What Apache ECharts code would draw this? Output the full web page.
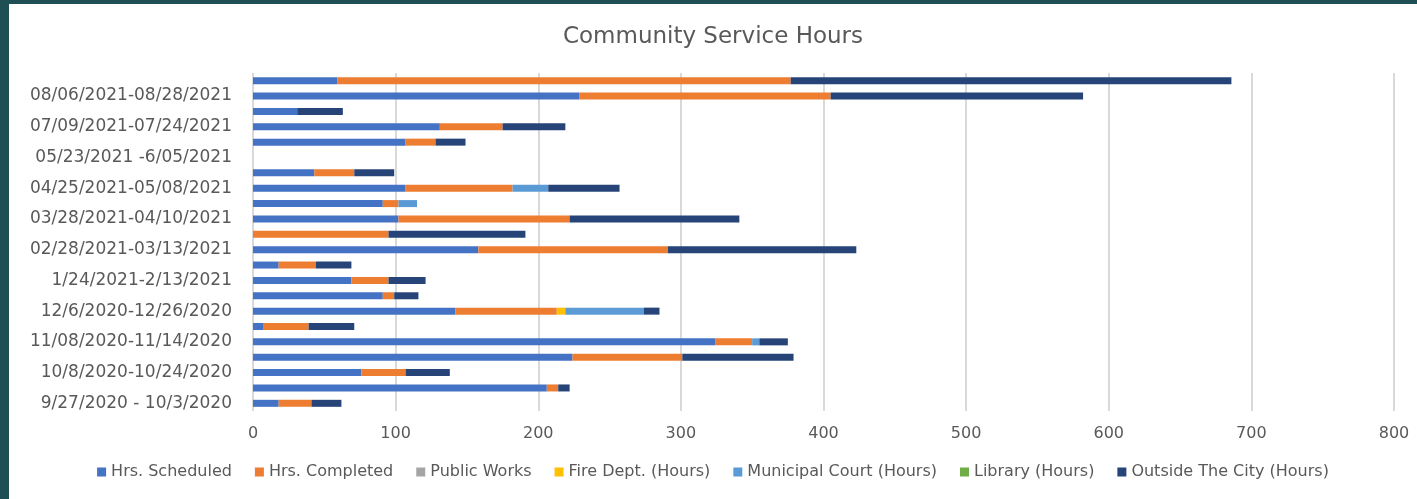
<!DOCTYPE html>
<html>
<head>
<meta charset="utf-8">
<script src="https://cdn.jsdelivr.net/npm/echarts@6/dist/echarts.min.js"></script>
<style>
  html, body { margin: 0; padding: 0; background: #1e4f54; width: 1417px; height: 499px; overflow: hidden; }
  #c { position: absolute; left: 9px; top: 4px; width: 1408px; height: 495px; background: #ffffff; }
</style>
</head>
<body>
<div id="c"></div>
<script>
const categories = [
  "9/27/2020 - 10/3/2020",
  "10/4/2020-10/7/2020",
  "10/8/2020-10/24/2020",
  "10/25/2020-11/07/2020",
  "11/08/2020-11/14/2020",
  "11/15/2020-12/5/2020",
  "12/6/2020-12/26/2020",
  "12/27/2020-1/23/2021",
  "1/24/2021-2/13/2021",
  "2/14/2021-2/27/2021",
  "02/28/2021-03/13/2021",
  "03/14/2021-03/27/2021",
  "03/28/2021-04/10/2021",
  "04/11/2021-04/24/2021",
  "04/25/2021-05/08/2021",
  "05/09/2021-05/22/2021",
  "05/23/2021 -6/05/2021",
  "06/06/2021-07/08/2021",
  "07/09/2021-07/24/2021",
  "07/25/2021-08/05/2021",
  "08/06/2021-08/28/2021",
  "08/29/2021-09/11/2021"
];
const hrsScheduled   = [18, 206, 76, 224, 324, 7, 142, 91, 69, 18, 158, 0, 102, 91, 107, 43, 0, 107, 131, 31, 229, 59];
const hrsCompleted   = [23, 8, 31, 77, 26, 32, 71, 8, 26, 26, 133, 95, 120, 11, 75, 28, 0, 21, 44, 0, 176, 318];
const publicWorks    = [0, 0, 0, 0, 0, 0, 0, 0, 0, 0, 0, 0, 0, 0, 0, 0, 0, 0, 0, 0, 0, 0];
const fireDept       = [0, 0, 0, 0, 0, 0, 6, 0, 0, 0, 0, 0, 0, 0, 0, 0, 0, 0, 0, 0, 0, 0];
const municipalCourt = [0, 0, 0, 0, 5, 0, 55, 0, 0, 0, 0, 0, 0, 13, 25, 0, 0, 0, 0, 0, 0, 0];
const library        = [0, 0, 0, 0, 0, 0, 0, 0, 0, 0, 0, 0, 0, 0, 0, 0, 0, 0, 0, 0, 0, 0];
const outsideCity    = [21, 8, 31, 78, 20, 32, 11, 17, 26, 25, 132, 96, 119, 0, 50, 28, 0, 21, 44, 32, 177, 309];

const seriesNames = ["Hrs. Scheduled", "Hrs. Completed", "Public Works", "Fire Dept. (Hours)", "Municipal Court (Hours)", "Library (Hours)", "Outside The City (Hours)"];
const seriesData = [hrsScheduled, hrsCompleted, publicWorks, fireDept, municipalCourt, library, outsideCity];
const colors = ["#4472C4", "#ED7D31", "#A5A5A5", "#FFC000", "#5B9BD5", "#70AD47", "#264478"];

const FONT = "DejaVu Sans";
const chart = echarts.init(document.getElementById('c'), null, { renderer: 'canvas' });
chart.setOption({
  animation: false,
  color: colors,
  title: {
    text: "Community Service Hours",
    left: 'center',
    top: 17,
    textStyle: { fontFamily: FONT, fontSize: 23, fontWeight: 'normal', color: '#595959' }
  },
  legend: {
    data: seriesNames,
    left: 'center',
    top: 455,
    itemWidth: 9,
    itemHeight: 9,
    itemGap: 23,
    icon: 'rect',
    textStyle: { fontFamily: FONT, fontSize: 16, color: '#595959' }
  },
  grid: { left: 244, right: 23, top: 69, bottom: 88, containLabel: false },
  xAxis: {
    type: 'value',
    min: 0, max: 800, interval: 100,
    axisLine: { show: false },
    axisTick: { show: false },
    axisLabel: { fontFamily: FONT, fontSize: 16, color: '#595959', margin: 15 },
    splitLine: { show: true, lineStyle: { color: '#d9d9d9', width: 2 } }
  },
  yAxis: {
    type: 'category',
    data: categories,
    axisLine: { show: false },
    axisTick: { show: false },
    axisLabel: { interval: 1, fontFamily: FONT, fontSize: 17, color: '#595959', margin: 21 }
  },
  series: seriesNames.map((n, i) => ({
    name: n,
    type: 'bar',
    stack: 'total',
    barWidth: 7,
    data: seriesData[i]
  }))
});
</script>
</body>
</html>
